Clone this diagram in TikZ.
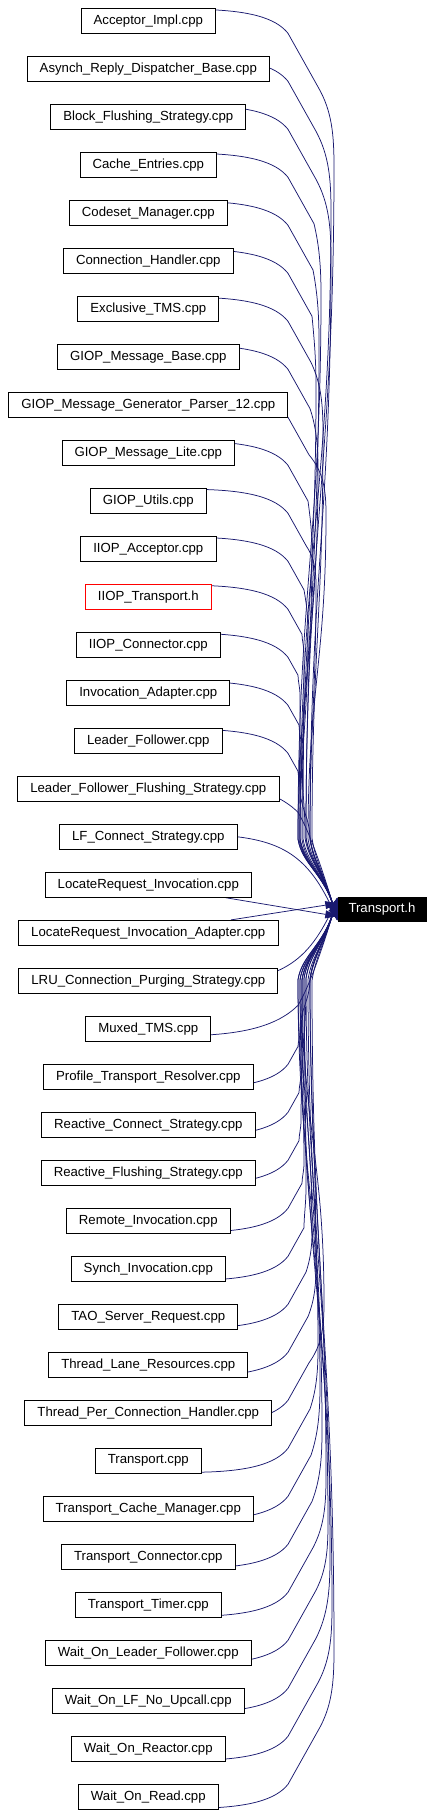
\documentclass[tikz,border=0pt]{standalone}
\usepackage{fontspec}
\setmainfont{Liberation Sans}
\usetikzlibrary{arrows.meta,calc}
\pgfdeclarelayer{bg}
\pgfsetlayers{bg,main}
\definecolor{edgeblue}{RGB}{25,25,112}
\tikzset{
  box/.style={draw=black, fill=white, line width=0.8pt, minimum height=25pt,
    inner xsep=12.6pt, inner ysep=0pt, font=\fontsize{13.2}{15}\selectfont},
  redbox/.style={box, draw=red},
  target/.style={draw=black, fill=black, text=white, minimum width=88pt,
    minimum height=24pt, inner sep=0pt, font=\fontsize{13.2}{15}\selectfont},
  dep/.style={draw=edgeblue, line width=0.75pt, -{Triangle[length=12pt,width=8pt]}}
}
% #1 row, #2 side (+1 above, -1 below), #3 x2, #4 xv, #5 m, #6 xq, #7 tip offset
\newcommand\farEdge[7]{%
  \pgfmathsetmacro\eY{20.8+48*#1-(#2)*12.5}%
  \pgfmathsetmacro\yA{\eY+(#2)*1}%
  \pgfmathsetmacro\yB{\eY+(#2)*10}%
  \pgfmathsetmacro\yC{\eY+(#2)*25}%
  \pgfmathsetmacro\yD{\eY+(#2)*(25+(#3-288)*1.786)}%
  \pgfmathsetmacro\yF{\yD+(#2)*#5*0.3}%
  \pgfmathsetmacro\yG{\yD+(#2)*#5*0.6}%
  \pgfmathsetmacro\yH{\yD+(#2)*#5}%
  \pgfmathsetmacro\tY{909-(#2)*(12-#7)}%
  \pgfmathsetmacro\yQ{\tY-(#2)*60}%
  \pgfmathsetmacro\yI{\yH+0.45*(\yQ-\yH)}%
  \pgfmathsetmacro\yJ{\yQ-0.45*(\yQ-\yH)}%
  \pgfmathsetmacro\yK{\yQ+(#2)*25}%
  \pgfmathsetmacro\yL{\tY-(#2)*26}%
  \pgfmathsetmacro\xVm{#4-2}%
  \pgfmathsetmacro\xQp{#6+4}%
  \draw[dep] (n#1.center) -- (190,\yA) .. controls (250,\yA) and (276,\yB) .. (288,\yC)
    -- (#3,\yD) .. controls (\xVm,\yF) and (#4,\yG) .. (#4,\yH)
    .. controls (#4,\yI) and (#6,\yJ) .. (#6,\yQ)
    .. controls (\xQp,\yK) and (323.5,\yL) .. ($(T.west)+(-0.5,{(#2)*(12-#7)})$);%
}
\begin{document}
\begin{tikzpicture}[x=1pt,y=-1pt]
\useasboundingbox (0,0) rectangle (434,1815);
\foreach \lab/\sty [count=\i from 0] in {
  Acceptor\_Impl.cpp/box,
  Asynch\_Reply\_Dispatcher\_Base.cpp/box,
  Block\_Flushing\_Strategy.cpp/box,
  Cache\_Entries.cpp/box,
  Codeset\_Manager.cpp/box,
  Connection\_Handler.cpp/box,
  Exclusive\_TMS.cpp/box,
  GIOP\_Message\_Base.cpp/box,
  GIOP\_Message\_Generator\_Parser\_12.cpp/box,
  GIOP\_Message\_Lite.cpp/box,
  GIOP\_Utils.cpp/box,
  IIOP\_Acceptor.cpp/box,
  IIOP\_Transport.h/redbox,
  IIOP\_Connector.cpp/box,
  Invocation\_Adapter.cpp/box,
  Leader\_Follower.cpp/box,
  Leader\_Follower\_Flushing\_Strategy.cpp/box,
  LF\_Connect\_Strategy.cpp/box,
  LocateRequest\_Invocation.cpp/box,
  LocateRequest\_Invocation\_Adapter.cpp/box,
  LRU\_Connection\_Purging\_Strategy.cpp/box,
  Muxed\_TMS.cpp/box,
  Profile\_Transport\_Resolver.cpp/box,
  Reactive\_Connect\_Strategy.cpp/box,
  Reactive\_Flushing\_Strategy.cpp/box,
  Remote\_Invocation.cpp/box,
  Synch\_Invocation.cpp/box,
  TAO\_Server\_Request.cpp/box,
  Thread\_Lane\_Resources.cpp/box,
  Thread\_Per\_Connection\_Handler.cpp/box,
  Transport.cpp/box,
  Transport\_Cache\_Manager.cpp/box,
  Transport\_Connector.cpp/box,
  Transport\_Timer.cpp/box,
  Wait\_On\_Leader\_Follower.cpp/box,
  Wait\_On\_LF\_No\_Upcall.cpp/box,
  Wait\_On\_Reactor.cpp/box,
  Wait\_On\_Read.cpp/box}
{
  \node[\sty] (n\i) at (148.3,{20.8+48*\i}) {\lab};
}
\node[target] (T) at (382,909) {Transport.h};
\begin{pgfonlayer}{bg}
  \fill[white] (0,0) rectangle (434,1815);
  % upper rows
  \farEdge{0}{1}{318}{334}{80}{306}{0.5}
  \farEdge{1}{1}{316}{331}{80}{300}{1.0}
  \farEdge{2}{1}{316}{331}{80}{310}{1.5}
  \farEdge{3}{1}{314}{321}{70}{298}{2.0}
  \farEdge{4}{1}{313}{319}{70}{306}{0.8}
  \farEdge{5}{1}{312}{316}{70}{302}{2.5}
  \farEdge{6}{1}{311}{323}{70}{312}{1.2}
  \farEdge{7}{1}{310}{318}{60}{300}{3.0}
  \farEdge{8}{1}{309}{326}{60}{308}{1.8}
  \farEdge{9}{1}{308}{312}{50}{298}{2.2}
  \farEdge{10}{1}{306}{316}{40}{310}{0.7}
  \farEdge{11}{1}{304}{308}{40}{300}{2.8}
  \farEdge{12}{1}{302}{304}{20}{303}{1.5}
  \farEdge{13}{1}{298}{300}{20}{299}{2.5}
  \farEdge{14}{1}{299}{301}{20}{305}{1.0}
  \farEdge{15}{1}{298}{300}{15}{310}{3.0}
  \draw[dep] (n16.center) -- (200,782.3) .. controls (255,784.3) and (282,796.3) .. (298,812.3)
    .. controls (310,832.3) and (323.5,873) .. ($(T.west)+(-0.5,10)$);
  \draw[dep] (n17.center) -- (200,834.3) .. controls (275,836.3) and (305,849.3) .. ($(T.west)+(-0.5,10.5)$);
  \draw[dep] (n18) -- ($(T.west)+(-0.5,7.3)$);
  \draw[dep] (n19) -- ($(T.west)+(-0.5,-5.7)$);
  \draw[dep] (n20.center) -- (200,983.3) .. controls (275,981.3) and (305,968.3) .. ($(T.west)+(-0.5,-10.5)$);
  \draw[dep] (n21.center) -- (200,1035.3) .. controls (255,1033.3) and (282,1021.3) .. (298,1005.3)
    .. controls (310,985.3) and (323.5,945) .. ($(T.west)+(-0.5,-10)$);
  % lower rows
  \farEdge{22}{-1}{298}{300}{15}{310}{3.0}
  \farEdge{23}{-1}{299}{301}{20}{302}{1.0}
  \farEdge{24}{-1}{299}{301}{20}{306}{2.5}
  \farEdge{25}{-1}{302}{304}{20}{298}{1.5}
  \farEdge{26}{-1}{304}{306}{40}{304}{2.8}
  \farEdge{27}{-1}{306}{312}{40}{300}{0.7}
  \farEdge{28}{-1}{308}{316}{50}{310}{2.2}
  \farEdge{29}{-1}{309}{324}{60}{302}{1.8}
  \farEdge{30}{-1}{310}{318}{60}{306}{3.0}
  \farEdge{31}{-1}{311}{320}{70}{298}{1.2}
  \farEdge{32}{-1}{312}{322}{70}{304}{2.5}
  \farEdge{33}{-1}{313}{326}{70}{310}{0.8}
  \farEdge{34}{-1}{314}{328}{70}{300}{2.0}
  \farEdge{35}{-1}{316}{330}{80}{308}{1.5}
  \farEdge{36}{-1}{316}{332}{80}{302}{1.0}
  \farEdge{37}{-1}{318}{334}{80}{312}{0.5}
\end{pgfonlayer}
\end{tikzpicture}
\end{document}
